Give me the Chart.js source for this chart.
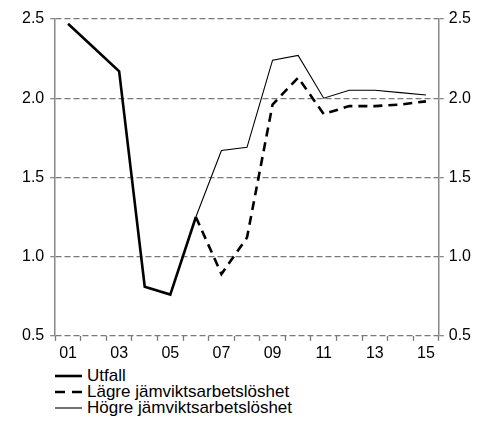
<!DOCTYPE html>
<html>
<head>
<meta charset="utf-8">
<script src="https://cdn.jsdelivr.net/npm/chart.js@4/dist/chart.umd.min.js"></script>
<style>
  html, body { margin: 0; padding: 0; background: #fff; }
  #wrap { position: relative; width: 490px; height: 366px; }
  #legend { position: absolute; left: 55px; top: 368px; font: 17px "Liberation Sans", Arial, sans-serif; color: #000; }
  .item { height: 16px; line-height: 16px; display: flex; align-items: center; }
  .item svg { margin-right: 5px; }
</style>
</head>
<body>
<div id="wrap"><canvas id="c"></canvas></div>
<div id="legend"></div>
<script>
const categories = ["01","02","03","04","05","06","07","08","09","10","11","12","13","14","15"];
const utfall = [2.47, 2.32, 2.17, 0.81, 0.76, 1.25, null, null, null, null, null, null, null, null, null];
const lagre  = [null, null, null, null, null, 1.25, 0.89, 1.12, 1.96, 2.13, 1.90, 1.95, 1.95, 1.96, 1.98];
const hogre  = [null, null, null, null, null, 1.25, 1.67, 1.69, 2.24, 2.27, 2.00, 2.05, 2.05, 2.035, 2.02];
const seriesNames = ["Utfall", "Lägre jämviktsarbetslöshet", "Högre jämviktsarbetslöshet"];
const yTicks = [0.5, 1.0, 1.5, 2.0, 2.5];

const font = { family: '"Liberation Sans", Arial, sans-serif', size: 16 };
const gridColor = '#7a7a7a';

const yAxis = (pos) => ({
  type: 'linear', position: pos, min: 0.5, max: 2.5,
  afterBuildTicks: (s) => { s.ticks = yTicks.map(v => ({ value: v })); },
  ticks: { color: '#000', font, padding: pos === 'left' ? 6 : 5, callback: v => v.toFixed(1) },
  grid: { display: true, drawOnChartArea: pos === 'left', color: gridColor, lineWidth: 1.3,
          tickLength: 5, tickColor: '#888', tickWidth: 1.3 },
  border: { display: true, color: '#888', width: 1.5, dash: [6, 3] }
});

new Chart(document.getElementById('c'), {
  type: 'line',
  data: {
    labels: categories,
    datasets: [
      { label: seriesNames[0], data: utfall, borderColor: '#000', borderWidth: 2.6, pointRadius: 0, tension: 0, order: 0 },
      { label: seriesNames[1], data: lagre, borderColor: '#000', borderWidth: 2.6, borderDash: [9, 6], pointRadius: 0, tension: 0, order: 1 },
      { label: seriesNames[2], data: hogre, borderColor: '#000', borderWidth: 1.1, pointRadius: 0, tension: 0, order: 2 }
    ]
  },
  options: {
    responsive: true, maintainAspectRatio: false, animation: false,
    layout: { padding: { left: 16, right: 14, top: 19, bottom: 0 } },
    plugins: { legend: { display: false }, tooltip: { enabled: false } },
    scales: {
      x: {
        type: 'category', offset: true,
        ticks: { color: '#000', font, autoSkip: false, maxRotation: 0, padding: 3,
                 callback: function(v, i) { return i % 2 === 0 ? this.getLabelForValue(v) : ''; } },
        grid: { display: true, drawOnChartArea: false, offset: true, tickLength: 5, tickColor: '#777', tickWidth: 1.3 },
        border: { display: false }
      },
      y: yAxis('left'),
      y2: yAxis('right')
    }
  }
});

const legend = document.getElementById('legend');
const styles = [
  { w: 2.6, dash: '' },
  { w: 2.6, dash: '10 7' },
  { w: 1.1, dash: '' }
];
seriesNames.forEach((n, i) => {
  const d = document.createElement('div');
  d.className = 'item';
  d.innerHTML = `<svg width="27" height="6"><line x1="0" y1="3" x2="27" y2="3" stroke="#000" stroke-width="${styles[i].w}" ${styles[i].dash ? `stroke-dasharray="${styles[i].dash}"` : ''}/></svg><span>${n}</span>`;
  legend.appendChild(d);
});
</script>
</body>
</html>
